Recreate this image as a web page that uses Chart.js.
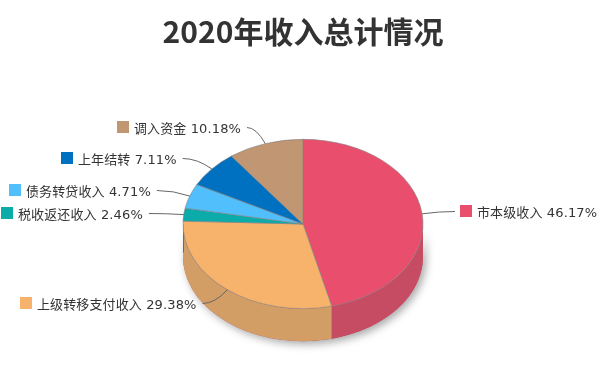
<!DOCTYPE html>
<html>
<head>
<meta charset="utf-8">
<title>2020年收入总计情况</title>
<script src="https://cdn.jsdelivr.net/npm/chart.js@4/dist/chart.umd.js"></script>
<style>
  html, body { margin: 0; padding: 0; background: #fff; }
  canvas { display: block; }
</style>
</head>
<body>
<canvas id="incomeChart" width="599" height="371"></canvas>
<script>
const categories = ["市本级收入", "上级转移支付收入", "税收返还收入", "债务转贷收入", "上年结转", "调入资金"];
const shares = [46.17, 29.38, 2.46, 4.71, 7.11, 10.18];
const topColors = ["#e94f6d", "#f7b36c", "#0babaa", "#50bffb", "#0070c0", "#c19672"];
const sideColors = ["#c54c62", "#d29e66", "#0a9492", "#45a4d8", "#0060a5", "#a88262"];

// where each label's colour box sits (x, y of its top left corner)
const swatchX = [460, 20, 1, 9, 61, 117];
const swatchY = [205, 297, 207, 184, 152, 121];

const squash = 85 / 120.5; // pie is seen from above, circle -> ellipse
const depth = 32.5;
const labelFont = '13px "DejaVu Sans", "Noto Sans CJK SC", sans-serif';

function arcProps(arc) {
  return arc.getProps(["x", "y", "startAngle", "endAngle", "outerRadius"], true);
}

function wallPath(ctx, p, a, b) {
  const ry = p.outerRadius * squash;
  ctx.beginPath();
  ctx.ellipse(p.x, p.y, p.outerRadius, ry, 0, a, b);
  ctx.ellipse(p.x, p.y + depth, p.outerRadius, ry, 0, b, a, true);
  ctx.closePath();
}

// squashes the pie and draws the side wall under it
const tiltPlugin = {
  id: "tilt",
  beforeDatasetsDraw(chart) {
    const ctx = chart.ctx;
    const arcs = chart.getDatasetMeta(0).data;

    // soft shadow first, so it does not fall on the neighbouring wall
    ctx.save();
    ctx.shadowColor = "rgba(0,0,0,0.35)";
    ctx.shadowBlur = 8;
    ctx.shadowOffsetX = 3;
    ctx.shadowOffsetY = 3;
    ctx.fillStyle = sideColors[0];
    wallPath(ctx, arcProps(arcs[0]), 0, Math.PI);
    ctx.fill();
    ctx.restore();

    arcs.forEach((arc, i) => {
      const p = arcProps(arc);
      const a = Math.max(p.startAngle, 0);
      const b = Math.min(p.endAngle, Math.PI);
      if (b > a) {
        ctx.fillStyle = sideColors[i];
        wallPath(ctx, p, a, b);
        ctx.fill();
      }
      // the slice just past the left edge shows as a thin strip on the wall
      if (p.startAngle > Math.PI && p.startAngle < Math.PI + 0.1) {
        ctx.strokeStyle = sideColors[i];
        ctx.lineWidth = 1;
        ctx.beginPath();
        ctx.moveTo(p.x - p.outerRadius + 0.5, p.y);
        ctx.lineTo(p.x - p.outerRadius + 0.5, p.y + depth - 4);
        ctx.stroke();
      }
    });
  },
  beforeDatasetDraw(chart) {
    const ctx = chart.ctx;
    const c = chart.getDatasetMeta(0).data[0];
    ctx.save();
    ctx.translate(c.x, c.y);
    ctx.scale(1, squash);
    ctx.translate(-c.x, -c.y);
  },
  afterDatasetDraw(chart) {
    chart.ctx.restore();
  },
  // labels with a colour box and a curved line to the slice middle
  afterDraw(chart) {
    const ctx = chart.ctx;
    ctx.save();
    ctx.font = labelFont;
    ctx.letterSpacing = "0.12px";
    ctx.textBaseline = "middle";
    chart.getDatasetMeta(0).data.forEach((arc, i) => {
      const p = arcProps(arc);
      const mid = (p.startAngle + p.endAngle) / 2;
      const px = p.x + Math.cos(mid) * p.outerRadius;
      const py = p.y + Math.sin(mid) * p.outerRadius * squash;
      const text = categories[i] + " " + shares[i].toFixed(2) + "%";
      const tx = swatchX[i] + 17;
      const ly = swatchY[i] + 6;
      const w = ctx.measureText(text).width;
      const onRight = px > p.x;
      const ex = onRight ? swatchX[i] - 5 : tx + w + 6;

      ctx.strokeStyle = "#666";
      ctx.lineWidth = 1;
      ctx.beginPath();
      ctx.moveTo(ex, ly + 0.5);
      ctx.quadraticCurveTo((ex + px) / 2, ly + 0.5, px, py);
      ctx.stroke();

      ctx.fillStyle = topColors[i];
      ctx.fillRect(swatchX[i], swatchY[i], 12, 12);
      ctx.fillStyle = "#333";
      ctx.fillText(text, tx, ly + 2.5);
    });
    ctx.restore();
  }
};

new Chart(document.getElementById("incomeChart"), {
  type: "pie",
  data: {
    labels: categories,
    datasets: [{
      data: shares,
      backgroundColor: topColors,
      borderColor: "rgba(130,130,130,0.7)",
      borderWidth: 1,
      borderAlign: "center"
    }]
  },
  options: {
    responsive: false,
    animation: false,
    layout: { padding: { left: 7, right: 0, top: 0, bottom: 26.5 } },
    plugins: {
      legend: { display: false },
      tooltip: { enabled: false },
      title: {
        display: true,
        text: "2020年收入总计情况",
        color: "#333",
        font: { family: '"Noto Sans CJK SC", sans-serif', size: 30, weight: "bold", lineHeight: 1.2 },
        padding: { top: 14, bottom: 53.5 }
      }
    }
  },
  plugins: [tiltPlugin]
});
</script>
</body>
</html>
